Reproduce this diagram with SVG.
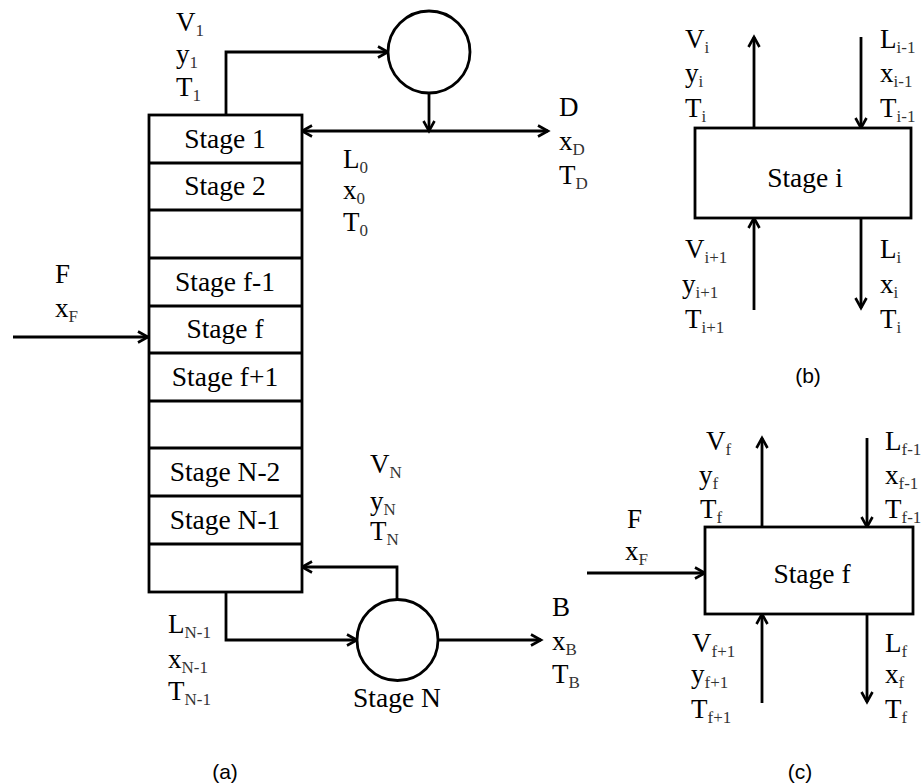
<svg xmlns="http://www.w3.org/2000/svg" width="923" height="784" viewBox="0 0 923 784">
<defs>
<marker id="arr" markerUnits="userSpaceOnUse" markerWidth="16" markerHeight="16" viewBox="0 0 16 16" refX="13" refY="8" orient="auto">
<path d="M3,2.5 L13,8 L3,13.5" fill="none" stroke="#000" stroke-width="2.6"/>
</marker>
<style>
.ln{fill:none;stroke:#000;stroke-width:2.8}
.ar{fill:none;stroke:#000;stroke-width:2.8;marker-end:url(#arr)}
.bx{fill:#fff;stroke:#000;stroke-width:2.8}
.st{font-family:"Liberation Serif","Times New Roman",serif;font-size:27.5px;text-anchor:middle;fill:#000}
.lb{font-family:"Liberation Serif","Times New Roman",serif;font-size:27px;fill:#000}
.sb{font-size:17px;fill:#333}
.cap{font-family:"Liberation Sans",Arial,sans-serif;font-size:21px;text-anchor:middle;fill:#000}
</style>
</defs>
<rect width="923" height="784" fill="#fff"/>

<g id="connectors">
<path class="ar" d="M226,115 V52 H388"/>
<path class="ar" d="M429,93 V131"/>
<path class="ar" d="M429,131 H302"/>
<path class="ar" d="M429,131 H548"/>
<path class="ar" d="M13,337 H148"/>
<path class="ar" d="M397,599 V567 H302"/>
<path class="ar" d="M226,592 V640 H357"/>
<path class="ar" d="M438,640 H541"/>
<path class="ar" d="M754,128 V37"/>
<path class="ar" d="M861,37 V128"/>
<path class="ar" d="M754,310 V218"/>
<path class="ar" d="M861,218 V308"/>
<path class="ar" d="M587,573 H705"/>
<path class="ar" d="M762,527 V438"/>
<path class="ar" d="M867,438 V527"/>
<path class="ar" d="M762,703 V614"/>
<path class="ar" d="M867,614 V702"/>
</g>

<g id="column">
<rect class="bx" x="149" y="115" width="153" height="477"/>
<path class="ln" d="M149,163 H302 M149,210 H302 M149,258 H302 M149,306 H302 M149,353 H302 M149,401 H302 M149,448 H302 M149,496 H302 M149,544 H302"/>
<text class="st" x="225" y="148">Stage 1</text>
<text class="st" x="225" y="195">Stage 2</text>
<text class="st" x="225" y="291">Stage f-1</text>
<text class="st" x="225" y="338">Stage f</text>
<text class="st" x="225" y="386">Stage f+1</text>
<text class="st" x="225" y="481">Stage N-2</text>
<text class="st" x="225" y="529">Stage N-1</text>
</g>

<g id="condenser">
<circle class="bx" cx="429" cy="52" r="41"/>
</g>

<g id="reboiler">
<circle class="bx" cx="397.5" cy="640" r="40.5"/>
<text class="st" x="397" y="707">Stage N</text>
</g>

<g id="labels-a">
<text class="lb" x="176" y="31">V<tspan class="sb" dy="5">1</tspan></text>
<text class="lb" x="176" y="63">y<tspan class="sb" dy="5">1</tspan></text>
<text class="lb" x="176" y="96">T<tspan class="sb" dy="5">1</tspan></text>
<text class="lb" x="343" y="168">L<tspan class="sb" dy="5">0</tspan></text>
<text class="lb" x="343" y="199">x<tspan class="sb" dy="5">0</tspan></text>
<text class="lb" x="343" y="231">T<tspan class="sb" dy="5">0</tspan></text>
<text class="lb" x="559" y="116">D</text>
<text class="lb" x="559" y="150">x<tspan class="sb" dy="5">D</tspan></text>
<text class="lb" x="559" y="184">T<tspan class="sb" dy="5">D</tspan></text>
<text class="lb" x="55" y="283">F</text>
<text class="lb" x="55" y="317">x<tspan class="sb" dy="5">F</tspan></text>
<text class="lb" x="370" y="473">V<tspan class="sb" dy="5">N</tspan></text>
<text class="lb" x="370" y="510">y<tspan class="sb" dy="5">N</tspan></text>
<text class="lb" x="370" y="540">T<tspan class="sb" dy="5">N</tspan></text>
<text class="lb" x="168" y="633">L<tspan class="sb" dy="5">N-1</tspan></text>
<text class="lb" x="168" y="668">x<tspan class="sb" dy="5">N-1</tspan></text>
<text class="lb" x="168" y="700">T<tspan class="sb" dy="5">N-1</tspan></text>
<text class="lb" x="552" y="616">B</text>
<text class="lb" x="552" y="650">x<tspan class="sb" dy="5">B</tspan></text>
<text class="lb" x="552" y="683">T<tspan class="sb" dy="5">B</tspan></text>
<text class="cap" x="225" y="779">(a)</text>
</g>

<g id="stage-i">
<rect class="bx" x="695" y="128" width="216" height="90"/>
<text class="st" x="805" y="187">Stage i</text>
<text class="lb" x="685" y="48">V<tspan class="sb" dy="5">i</tspan></text>
<text class="lb" x="685" y="82">y<tspan class="sb" dy="5">i</tspan></text>
<text class="lb" x="685" y="117">T<tspan class="sb" dy="5">i</tspan></text>
<text class="lb" x="880" y="48">L<tspan class="sb" dy="5">i-1</tspan></text>
<text class="lb" x="880" y="82">x<tspan class="sb" dy="5">i-1</tspan></text>
<text class="lb" x="880" y="117">T<tspan class="sb" dy="5">i-1</tspan></text>
<text class="lb" x="685" y="258">V<tspan class="sb" dy="5">i+1</tspan></text>
<text class="lb" x="682" y="293">y<tspan class="sb" dy="5">i+1</tspan></text>
<text class="lb" x="685" y="328">T<tspan class="sb" dy="5">i+1</tspan></text>
<text class="lb" x="880" y="258">L<tspan class="sb" dy="5">i</tspan></text>
<text class="lb" x="880" y="293">x<tspan class="sb" dy="5">i</tspan></text>
<text class="lb" x="880" y="328">T<tspan class="sb" dy="5">i</tspan></text>
<text class="cap" x="808" y="383">(b)</text>
</g>

<g id="stage-f">
<rect class="bx" x="705" y="527" width="208" height="87"/>
<text class="st" x="812" y="583">Stage f</text>
<text class="lb" x="627" y="528">F</text>
<text class="lb" x="625" y="560">x<tspan class="sb" dy="5">F</tspan></text>
<text class="lb" x="706" y="450">V<tspan class="sb" dy="5">f</tspan></text>
<text class="lb" x="699" y="484">y<tspan class="sb" dy="5">f</tspan></text>
<text class="lb" x="700" y="518">T<tspan class="sb" dy="5">f</tspan></text>
<text class="lb" x="885" y="450">L<tspan class="sb" dy="5">f-1</tspan></text>
<text class="lb" x="885" y="484">x<tspan class="sb" dy="5">f-1</tspan></text>
<text class="lb" x="885" y="518">T<tspan class="sb" dy="5">f-1</tspan></text>
<text class="lb" x="692" y="652">V<tspan class="sb" dy="5">f+1</tspan></text>
<text class="lb" x="691" y="683">y<tspan class="sb" dy="5">f+1</tspan></text>
<text class="lb" x="691" y="718">T<tspan class="sb" dy="5">f+1</tspan></text>
<text class="lb" x="885" y="652">L<tspan class="sb" dy="5">f</tspan></text>
<text class="lb" x="885" y="683">x<tspan class="sb" dy="5">f</tspan></text>
<text class="lb" x="885" y="718">T<tspan class="sb" dy="5">f</tspan></text>
<text class="cap" x="800" y="779">(c)</text>
</g>
</svg>
